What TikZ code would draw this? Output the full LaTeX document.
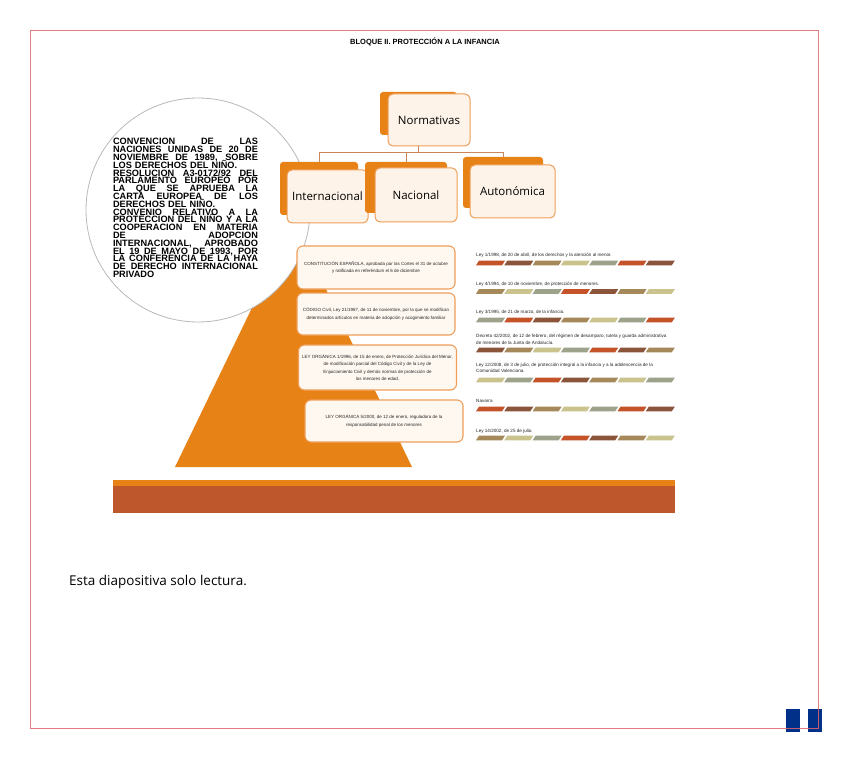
\documentclass[tikz,border=0pt]{standalone}
\usepackage{fontspec}
\setmainfont{Liberation Sans}
\newfontfamily\cajafont{Open Sans}
\usepackage{xcolor}
\usepackage{tikz}
\usetikzlibrary{calc}
\definecolor{NaranjaPir}{RGB}{230,130,22}
\definecolor{BordeCaja}{RGB}{238,158,88}
\definecolor{CremaCaja}{RGB}{253,243,232}
\definecolor{TejaBarra}{RGB}{190,88,44}
\definecolor{LineaRoja}{RGB}{222,100,110}
\definecolor{AzulIcono}{RGB}{0,48,135}
\definecolor{ConectorOrg}{RGB}{200,135,90}
\definecolor{franja0}{RGB}{196,83,42}
\definecolor{franja1}{RGB}{138,85,58}
\definecolor{franja2}{RGB}{165,137,90}
\definecolor{franja3}{RGB}{203,195,142}
\definecolor{franja4}{RGB}{156,163,138}
\newcommand{\renglon}[1]{\makebox[145pt][s]{\spaceskip=.25em plus 1fil\relax #1}}
\newcommand{\renglonfin}[1]{\makebox[145pt][l]{#1}}

\begin{document}
\begin{tikzpicture}[x=1pt,y=-1pt,
  sombra/.style={fill=NaranjaPir,rounded corners=3pt,inner sep=0pt,outer sep=0pt},
  caja/.style={draw=BordeCaja,line width=1pt,fill=CremaCaja,rounded corners=5pt,inner sep=0pt,outer sep=0pt,font=\cajafont\fontsize{11.5}{13}\selectfont},
  cajapir/.style={draw=BordeCaja,line width=1.1pt,fill=CremaCaja!60!white,rounded corners=6pt,minimum width=158,inner sep=3pt,align=center,text=black!85,font=\fontsize{4.5}{7.5}\selectfont},
  ley/.style={anchor=west,inner sep=0pt,align=left,text=black!85,font=\fontsize{4.6}{6.5}\selectfont},
  conector/.style={draw=ConectorOrg,line width=0.8pt}]
  \useasboundingbox (0,0) rectangle (848,759);
  \fill[white] (0,0) rectangle (848,759);
  \node[font=\bfseries\fontsize{7.5}{9}\selectfont] (titulo) at (425,42) {BLOQUE II. PROTECCIÓN A LA INFANCIA};

  % piramide y circulo
  \coordinate (pirIzq) at (175,467);
  \coordinate (pirCima) at (293.5,222);
  \coordinate (pirDer) at (412,467);
  \fill[NaranjaPir] (pirIzq) -- (pirCima) -- (pirDer) -- cycle;
  \draw[gray!55,line width=0.8pt,fill=white] (198,210) circle (112);
  \node[inner sep=0pt,text width=145pt,font=\bfseries\fontsize{9.2}{7.8}\selectfont,
        execute at begin node={\lineskiplimit=-100pt\relax}] (convenios) at (185.5,208) {%
    \renglon{CONVENCION DE LAS}\\
    \renglon{NACIONES UNIDAS DE 20 DE}\\
    \renglon{NOVIEMBRE DE 1989, SOBRE}\\
    \renglonfin{LOS DERECHOS DEL NIÑO.}\\
    \renglon{RESOLUCION A3-0172/92 DEL}\\
    \renglon{PARLAMENTO EUROPEO POR}\\
    \renglon{LA QUE SE APRUEBA LA}\\
    \renglon{CARTA EUROPEA DE LOS}\\
    \renglonfin{DERECHOS DEL NIÑO.}\\
    \renglon{CONVENIO RELATIVO A LA}\\
    \renglon{PROTECCION DEL NIÑO Y A LA}\\
    \renglon{COOPERACION EN MATERIA}\\
    \renglon{DE ADOPCION}\\
    \renglon{INTERNACIONAL, APROBADO}\\
    \renglon{EL 19 DE MAYO DE 1993, POR}\\
    \renglon{LA CONFERENCIA DE LA HAYA}\\
    \renglon{DE DERECHO INTERNACIONAL}\\
    \renglonfin{PRIVADO}};

  % organigrama
  \node[sombra,minimum width=77,minimum height=43] (normas-fondo) at (418.5,113.5) {};
  \node[caja,minimum width=82,minimum height=52] (normas) at (429,120) {Normativas};
  \node[sombra,minimum width=78,minimum height=53] (intl-fondo) at (319,188.5) {};
  \node[caja,minimum width=81,minimum height=53] (intl) at (327.5,196.5) {Internacional};
  \node[sombra,minimum width=82,minimum height=51] (nacional-fondo) at (406,187.5) {};
  \node[caja,minimum width=82,minimum height=54] (nacional) at (416,195) {Nacional};
  \node[sombra,minimum width=80,minimum height=51] (autonomica-fondo) at (503,182.5) {};
  \node[caja,minimum width=85,minimum height=53] (autonomica) at (512.5,191.5) {Autonómica};
  \coordinate (rama) at ($(normas-fondo.south |- normas.south)+(0,6)$);
  \draw[conector] (normas-fondo.south |- normas.south) -- (rama);
  \draw[conector] (rama) -| (intl-fondo.north);
  \draw[conector] (rama) -| (nacional-fondo.north);
  \draw[conector] (rama) -| (autonomica-fondo.north);

  % cajas de la piramide
  \node[cajapir,minimum height=43] (pirA) at (376,267.5) {CONSTITUCIÓN ESPAÑOLA, aprobada por las Cortes el 31 de octubre\\y ratificada en referéndum el 6 de diciembre};
  \node[cajapir,minimum height=42] (pirB) at (376,314) {CÓDIGO Civil, Ley 21/1987, de 11 de noviembre, por la que se modifican\\determinados artículos en materia de adopción y acogimiento familiar};
  \node[cajapir,minimum height=45] (pirC) at (377.5,367.5) {LEY ORGÁNICA 1/1996, de 15 de enero, de Protección Jurídica del Menor,\\de modificación parcial del Código Civil y de la Ley de\\Enjuiciamiento Civil y demás normas de protección de\\los menores de edad.};
  \node[cajapir,minimum height=42] (pirD) at (384,421) {LEY ORGÁNICA 5/2000, de 12 de enero, reguladora de la\\responsabilidad penal de los menores};

  % leyes autonomicas
  \node[ley] (leyA) at (476,255) {Ley 1/1998, de 20 de abril, de los derechos y la atención al menor.};
  \node[ley] (leyB) at (476,284) {Ley 4/1994, de 10 de noviembre, de protección de menores.};
  \node[ley] (leyC) at (476,312) {Ley 3/1995, de 21 de marzo, de la infancia.};
  \node[ley] (leyD) at (476,339.5) {Decreto 42/2002, de 12 de febrero, del régimen de desamparo, tutela y guarda administrativa\\de menores de la Junta de Andalucía.};
  \node[ley] (leyE) at (476,368) {Ley 12/2008, de 3 de julio, de protección integral a la infancia y a la adolescencia de la\\Comunidad Valenciana.};
  \node[ley] (leyF) at (476,401) {Navarra};
  \node[ley] (leyG) at (476,431) {Ley 14/2002, de 25 de julio.};
  \foreach \fila/\yy in {0/263,1/291.5,2/320,3/350,4/380,5/409,6/438}{
    \foreach \j in {0,...,6}{
      \pgfmathtruncatemacro{\k}{mod(\j+2*\fila,5)}
      \pgfmathsetmacro{\xx}{476+28.3*\j}
      \fill[franja\k] (\xx,\yy+2.3) -- ++(26,0) -- ++(3,-4.6) -- ++(-26,0) -- cycle;
    }
  }

  % barra inferior
  \fill[TejaBarra] (113,484) rectangle (675,513);
  \fill[NaranjaPir] (113,480) rectangle (675,485.5);
  \node[anchor=west,inner sep=0pt,font=\cajafont\fontsize{13.5}{15}\selectfont] (nota) at (69,582) {Esta diapositiva solo lectura.};

  \fill[AzulIcono] (786,709) rectangle (800,732);
  \fill[AzulIcono] (808,709) rectangle (822,732);
  \draw[LineaRoja,line width=1pt,opacity=0.85] (30,31) rectangle (818,728);
\end{tikzpicture}
\end{document}
